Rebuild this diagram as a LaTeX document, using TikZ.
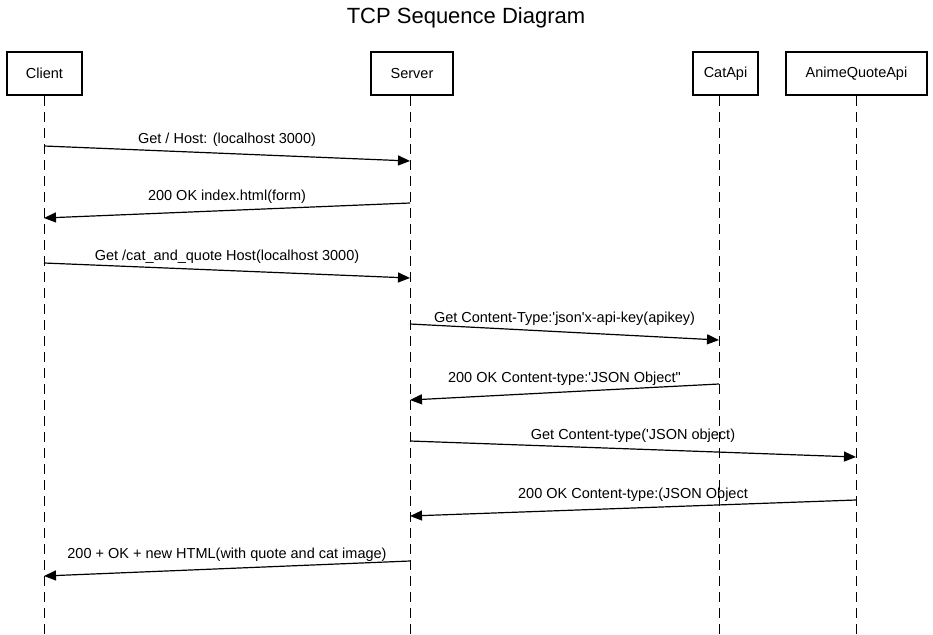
\documentclass[tikz,border=0pt]{standalone}
\usepackage{fontspec}
\setmainfont{Liberation Sans}
\usetikzlibrary{arrows.meta, positioning, calc}
\tikzset{>={Triangle[length=12pt, width=10pt]}}
\tikzset{font=\fontsize{14.5}{17}\selectfont}
\tikzset{actor/.style={draw, line width=2pt, minimum height=43pt, inner sep=4pt},
  lifeline/.style={line width=1pt, dash pattern=on 10pt off 6pt},
  msg/.style={->, line width=1.2pt},
  msglabel/.style={above=5pt, inner sep=1pt}}

\begin{document}
\begin{tikzpicture}[x=1pt, y=-1pt]
      \useasboundingbox (0, 0) rectangle (933, 634); %
      \node (title) at (466, 18) {\fontsize{22}{26}\selectfont TCP Sequence Diagram}; %
      % participants
      \node[actor, minimum width=75pt] (client) at (44.5, 73.5) {Client}; %
      \node[actor, minimum width=82pt] (server) at (412, 73.5) {Server}; %
      \node[actor, minimum width=65pt] (catapi) at (725.5, 73.5) {CatApi}; %
      \node[actor, minimum width=141pt] (animeapi) at (856.5, 73.5) {AnimeQuoteApi}; %
      \coordinate (bottom) at (0, 634); %
      \foreach \p/\x in {client/44, server/410, catapi/719, animeapi/856} {
        \coordinate (\p line) at (\x, 0);
        \draw[lifeline] (\p line |- \p.south) -- (\p line |- bottom);
      }
      % messages
      \draw[msg] (clientline |- 0,146) -- node[msglabel]{Get / Host: (localhost 3000)} (serverline |- 0,161); %
      \draw[msg] (serverline |- 0,203) -- node[msglabel]{200 OK index.html(form)} (clientline |- 0,218); %
      \draw[msg] (clientline |- 0,263) -- node[msglabel]{Get /cat\_and\_quote Host(localhost 3000)} (serverline |- 0,278); %
      \draw[msg] (serverline |- 0,324) -- node[msglabel]{Get Content-Type:\textquotesingle json\textquotesingle x-api-key(apikey)} (catapiline |- 0,340); %
      \draw[msg] (catapiline |- 0,384) -- node[msglabel]{200 OK Content-type:\textquotesingle JSON Object\textquotedbl} (serverline |- 0,400); %
      \draw[msg] (serverline |- 0,441) -- node[msglabel]{Get Content-type(\textquotesingle JSON object)} (animeapiline |- 0,457); %
      \draw[msg] (animeapiline |- 0,500) -- node[msglabel]{200 OK Content-type:(JSON Object} (serverline |- 0,516); %
      \draw[msg] (serverline |- 0,561) -- node[msglabel]{200 + OK + new HTML(with quote and cat image)} (clientline |- 0,576); %
    \end{tikzpicture}
\end{document}
